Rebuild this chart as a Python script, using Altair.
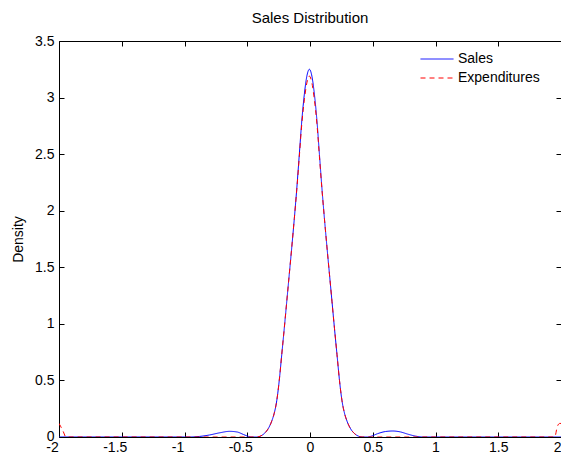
import altair as alt
import pandas as pd

# Sales (blue, solid) density
sales_x = [-2.0, -1.5, -1.0, -0.95, -0.88, -0.80, -0.72, -0.64, -0.58, -0.53, -0.49, -0.47,
           -0.425, -0.395, -0.365, -0.335, -0.305, -0.285, -0.265, -0.245, -0.225, -0.205,
           -0.185, -0.165, -0.145, -0.125, -0.105, -0.085, -0.065, -0.045, -0.025, -0.005,
           0.015, 0.035, 0.055, 0.075, 0.095, 0.115, 0.135, 0.155, 0.175, 0.195,
           0.215, 0.235, 0.255, 0.275, 0.295, 0.325, 0.355, 0.385, 0.415,
           0.46, 0.49, 0.54, 0.60, 0.66, 0.72, 0.78, 0.84, 0.90, 1.0, 1.5, 2.0]
sales_y = [0.0, 0.0, 0.0, 0.0, 0.005, 0.018, 0.037, 0.05, 0.044, 0.022, 0.005, 0.0,
           0.0, 0.008, 0.03, 0.07, 0.14, 0.21, 0.32, 0.50, 0.73, 0.96,
           1.20, 1.44, 1.68, 1.93, 2.20, 2.50, 2.80, 3.03, 3.19, 3.25,
           3.19, 3.03, 2.80, 2.50, 2.20, 1.93, 1.68, 1.44, 1.20, 0.96,
           0.73, 0.50, 0.32, 0.21, 0.14, 0.07, 0.03, 0.008, 0.0,
           0.0, 0.008, 0.03, 0.048, 0.053, 0.045, 0.025, 0.008, 0.0, 0.0, 0.0, 0.0]

# Expenditures (red, dashed) density
exp_x = [-2.0, -1.985, -1.965, -1.945, -1.5, -1.0, -0.5,
         -0.425, -0.395, -0.365, -0.335, -0.305, -0.285, -0.265, -0.245, -0.225, -0.205,
         -0.185, -0.165, -0.145, -0.125, -0.105, -0.085, -0.065, -0.045, -0.025, -0.005,
         0.015, 0.035, 0.055, 0.075, 0.095, 0.115, 0.135, 0.155, 0.175, 0.195,
         0.215, 0.235, 0.255, 0.275, 0.295, 0.325, 0.355, 0.385, 0.415,
         0.5, 1.0, 1.5, 1.95, 1.97, 1.99, 2.0]
exp_y = [0.12, 0.09, 0.045, 0.0, 0.0, 0.0, 0.0,
         0.0, 0.008, 0.03, 0.07, 0.14, 0.21, 0.32, 0.50, 0.73, 0.96,
         1.20, 1.44, 1.68, 1.93, 2.19, 2.48, 2.77, 2.98, 3.13, 3.19,
         3.13, 2.98, 2.77, 2.48, 2.19, 1.93, 1.68, 1.44, 1.20, 0.96,
         0.73, 0.50, 0.32, 0.21, 0.14, 0.07, 0.03, 0.008, 0.0,
         0.0, 0.0, 0.0, 0.0, 0.09, 0.12, 0.12]

series_names = ["Sales", "Expenditures"]
series_colors = ["#0000ff", "#ff0000"]
series_dashes = [[1, 0], [5, 4]]
x_ticks = [-2, -1.5, -1, -0.5, 0, 0.5, 1, 1.5, 2]
y_ticks = [0, 0.5, 1, 1.5, 2, 2.5, 3, 3.5]

sales_df = pd.DataFrame({"x": sales_x, "y": sales_y, "series": series_names[0]})
exp_df = pd.DataFrame({"x": exp_x, "y": exp_y, "series": series_names[1]})

FONT = "Liberation Sans"

xscale = alt.Scale(domain=[-2, 2], nice=False, zero=False)
yscale = alt.Scale(domain=[0, 3.5], nice=False)


def legend_for(i, y):
    return alt.Legend(
        title=None, orient="none", legendX=361, legendY=y,
        symbolType="stroke", symbolSize=1089, symbolStrokeWidth=1,
        symbolDash=series_dashes[i], symbolStrokeColor=series_colors[i],
        labelFont=FONT, labelFontSize=14, labelColor="black", labelOffset=4,
        clipHeight=17, rowPadding=2, padding=0,
    )


x_main = alt.X("x:Q", scale=xscale,
               axis=alt.Axis(values=x_ticks, labelExpr="'' + datum.value", title=None,
                             domain=False, grid=False, ticks=True, tickSize=5, offset=-5,
                             tickColor="black", labelColor="black", labelFont=FONT,
                             labelFontSize=14, labelPadding=3, labelFlush=False,
                             labelOverlap=False,
                             labelAlign={"condition": {"test": "datum.value >= 2", "value": "right"},
                                         "value": "center"},
                             labelOffset={"condition": {"test": "datum.value < 0", "value": -7},
                                          "value": 0}))
y_main = alt.Y("y:Q", scale=yscale,
               axis=alt.Axis(values=y_ticks, labelExpr="'' + datum.value", title="Density",
                             domain=False, grid=False, ticks=True, tickSize=5, offset=-5,
                             tickColor="black", labelColor="black", labelFont=FONT,
                             labelFontSize=14, labelPadding=5, labelFlush=False,
                             labelOverlap=False, titleFont=FONT, titleFontSize=14,
                             titleFontWeight="normal", titleColor="black", titlePadding=9,
                             labelOffset={"condition": {"test": "datum.value == 0", "value": -1},
                                          "value": 0}))

sales_line = alt.Chart(sales_df).mark_line(
    strokeWidth=1, clip=True, interpolate="monotone", strokeDash=series_dashes[0]
).encode(
    x=x_main,
    y=y_main,
    color=alt.Color("series:N",
                    scale=alt.Scale(domain=[series_names[0]], range=[series_colors[0]]),
                    legend=legend_for(0, 9.5)),
)

exp_line = alt.Chart(exp_df).mark_line(
    strokeWidth=1, clip=True, interpolate="monotone", strokeDash=series_dashes[1]
).encode(
    x=alt.X("x:Q", scale=xscale, axis=None),
    y=alt.Y("y:Q", scale=yscale, axis=None),
    color=alt.Color("series:N",
                    scale=alt.Scale(domain=[series_names[1]], range=[series_colors[1]]),
                    legend=legend_for(1, 28.5)),
)

frame = alt.Chart(sales_df).mark_point(opacity=0, size=1).encode(
    x=alt.X("x:Q", scale=xscale,
            axis=alt.Axis(orient="top", values=x_ticks, labels=False, title=None,
                          domain=False, grid=False, ticks=True, tickSize=5, offset=-5,
                          tickColor="black")),
    y=alt.Y("y:Q", scale=yscale,
            axis=alt.Axis(orient="right", values=y_ticks, labels=False, title=None,
                          domain=False, grid=False, ticks=True, tickSize=5, offset=-5,
                          tickColor="black")),
)

chart = alt.layer(sales_line, exp_line, frame).resolve_axis(
    x="independent", y="independent"
).resolve_scale(
    color="independent"
).properties(
    width=502,
    height=396,
    title=alt.Title("Sales Distribution", font=FONT, fontSize=15, fontWeight="normal",
                    color="black", anchor="middle", offset=8),
    autosize=alt.AutoSizeParams(type="none"),
    padding={"left": 51, "top": 33, "right": 0, "bottom": 16},
).configure_view(
    stroke="black", strokeWidth=1
)

chart.save("out.html", embed_options={"renderer": "svg", "actions": False})
